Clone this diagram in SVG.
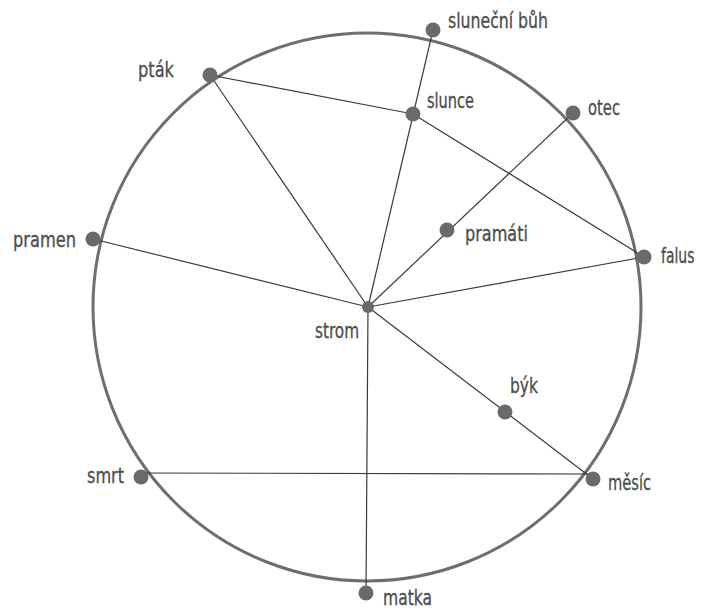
<svg xmlns="http://www.w3.org/2000/svg" width="702" height="610" viewBox="0 0 702 610">
<style>
.ring{fill:none;stroke:#6e6e6e;stroke-width:3}
.edge{stroke:#3a3a3a;stroke-width:1.2;fill:none}
.dot{fill:#6a6a6a}
.lbl{font-family:"DejaVu Sans Condensed","DejaVu Sans",sans-serif;font-size:21px;fill:#4d4d4d;stroke:#4d4d4d;stroke-width:0.3}
</style>
<rect width="702" height="610" fill="#fff"/>
<circle class="ring" cx="367" cy="307" r="274"/>
<g id="connectors">
<line class="edge" x1="210" y1="75" x2="413" y2="114"/>
<line class="edge" x1="210" y1="75" x2="368" y2="307"/>
<line class="edge" x1="433" y1="30" x2="368" y2="307"/>
<line class="edge" x1="413" y1="114" x2="644" y2="257"/>
<line class="edge" x1="573" y1="113" x2="368" y2="307"/>
<line class="edge" x1="93" y1="239" x2="368" y2="307"/>
<line class="edge" x1="368" y1="307" x2="644" y2="257"/>
<line class="edge" x1="368" y1="307" x2="366" y2="593"/>
<line class="edge" x1="368" y1="307" x2="593" y2="479"/>
<line class="edge" x1="141" y1="473" x2="593" y2="474"/>
</g>
<g id="ptak"><circle class="dot" cx="210" cy="75" r="7.5"/><text class="lbl" x="138" y="77" textLength="36" lengthAdjust="spacingAndGlyphs">pták</text></g>
<g id="pramen"><circle class="dot" cx="93" cy="239" r="7.5"/><text class="lbl" x="13" y="247" textLength="63" lengthAdjust="spacingAndGlyphs">pramen</text></g>
<g id="slunecni-buh"><circle class="dot" cx="433" cy="30" r="7.5"/><text class="lbl" x="448" y="28" textLength="100" lengthAdjust="spacingAndGlyphs">sluneční bůh</text></g>
<g id="slunce"><circle class="dot" cx="413" cy="114" r="7.5"/><text class="lbl" x="427" y="108" textLength="47" lengthAdjust="spacingAndGlyphs">slunce</text></g>
<g id="otec"><circle class="dot" cx="573" cy="113" r="7.5"/><text class="lbl" x="588" y="115" textLength="32" lengthAdjust="spacingAndGlyphs">otec</text></g>
<g id="pramati"><circle class="dot" cx="447" cy="230" r="7.5"/><text class="lbl" x="465" y="241" textLength="63" lengthAdjust="spacingAndGlyphs">pramáti</text></g>
<g id="falus"><circle class="dot" cx="644" cy="257" r="7.5"/><text class="lbl" transform="translate(661,263) scale(0.74,1)" x="0" y="0">falus</text></g>
<g id="strom"><circle class="dot" cx="368" cy="307" r="6"/><text class="lbl" x="315" y="338" textLength="44" lengthAdjust="spacingAndGlyphs">strom</text></g>
<g id="byk"><circle class="dot" cx="505" cy="412" r="7.5"/><text class="lbl" x="510" y="393" textLength="28" lengthAdjust="spacingAndGlyphs">býk</text></g>
<g id="mesic"><circle class="dot" cx="593" cy="479" r="7.5"/><text class="lbl" x="608" y="490" textLength="43" lengthAdjust="spacingAndGlyphs">měsíc</text></g>
<g id="matka"><circle class="dot" cx="366" cy="593" r="7.5"/><text class="lbl" x="383" y="605" textLength="49" lengthAdjust="spacingAndGlyphs">matka</text></g>
<g id="smrt"><circle class="dot" cx="141" cy="477" r="7.5"/><text class="lbl" x="87" y="483" textLength="37" lengthAdjust="spacingAndGlyphs">smrt</text></g>
</svg>
